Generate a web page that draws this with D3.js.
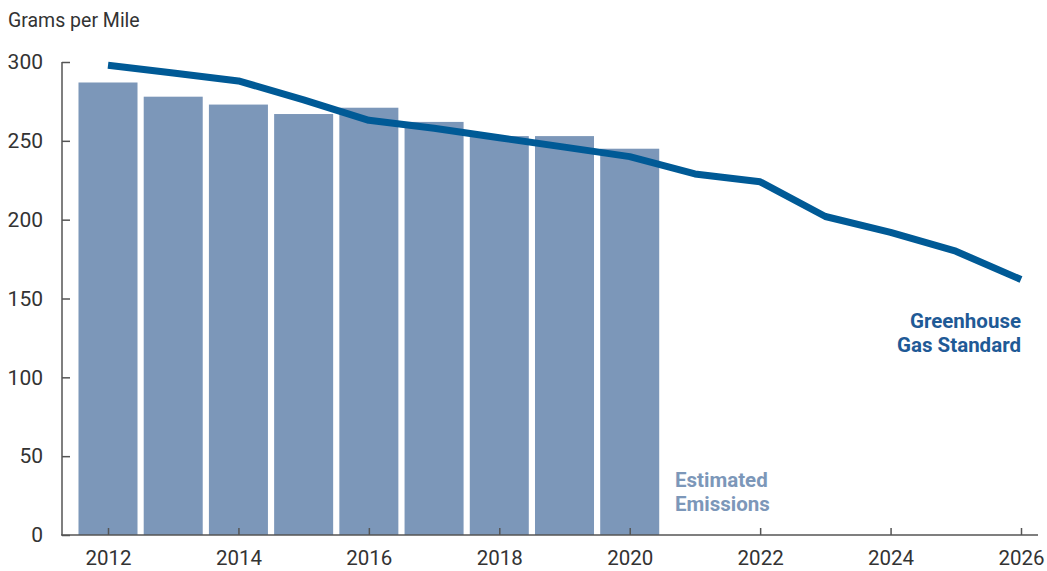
<!DOCTYPE html>
<html>
<head>
<meta charset="utf-8">
<script src="https://cdn.jsdelivr.net/npm/d3@7"></script>
<style>
  body { margin: 0; background: #fff; }
  svg text { font-family: Roboto, "Open Sans", sans-serif; }
</style>
</head>
<body>
<svg id="chart"></svg>
<script>
// estimated emissions (bars) and standard (line), grams per mile
const barYears = [2012, 2013, 2014, 2015, 2016, 2017, 2018, 2019, 2020];
const emissions = [287, 278, 273, 267, 271, 262, 253, 253, 245];

const lineYears = [2012, 2013, 2014, 2015, 2016, 2017, 2018, 2019, 2020, 2021, 2022, 2023, 2024, 2025, 2026];
const standard = [298, 293, 288, 276, 263, 258, 252, 246, 240, 229, 224, 202, 192, 180, 162];

const yTicks = [0, 50, 100, 150, 200, 250, 300];
const xTicks = [2012, 2014, 2016, 2018, 2020, 2022, 2024, 2026];

const W = 1047, H = 571;
const axisColor = "#555", textColor = "#333";
const barColor = "#7c97b9", lineColor = "#005a96";

const svg = d3.select("#chart")
  .attr("width", W)
  .attr("height", H);

const x = d3.scaleLinear().domain([2012, 2026]).range([108, 1021]);
const y = d3.scaleLinear().domain([0, 300]).range([535, 62]);
const barW = (x(2013) - x(2012)) * 0.905;

// axis title
svg.append("text")
  .attr("x", 8).attr("y", 27)
  .attr("font-size", 19.5)
  .attr("fill", textColor)
  .text("Grams per Mile");

// bars
svg.selectAll(".bar")
  .data(barYears)
  .enter().append("rect")
  .attr("class", "bar")
  .attr("x", d => x(d) - barW / 2)
  .attr("width", barW)
  .attr("y", (d, i) => y(emissions[i]))
  .attr("height", (d, i) => y(0) - y(emissions[i]))
  .attr("fill", barColor);

// y axis
const yAxis = svg.append("g")
  .attr("transform", `translate(62,0)`)
  .call(d3.axisRight(y).tickValues(yTicks).tickSize(8).tickFormat(d => d));
yAxis.select(".domain").remove();
yAxis.selectAll(".tick line").attr("stroke", axisColor).attr("stroke-width", 1.5);
yAxis.selectAll(".tick text")
  .attr("x", -19).attr("text-anchor", "end")
  .attr("font-size", 21).attr("fill", textColor)
  .attr("font-family", "Roboto, sans-serif");
svg.append("line")
  .attr("x1", 62).attr("x2", 62)
  .attr("y1", y(300)).attr("y2", y(0))
  .attr("stroke", axisColor).attr("stroke-width", 1.5);

// x axis
const xAxis = svg.append("g")
  .attr("transform", `translate(0,${y(0)})`)
  .call(d3.axisTop(x).tickValues(xTicks).tickSize(7).tickFormat(d3.format("d")));
xAxis.select(".domain").remove();
xAxis.selectAll(".tick line").attr("stroke", axisColor).attr("stroke-width", 1.5);
xAxis.selectAll(".tick text")
  .attr("y", 30).attr("dy", 0)
  .attr("font-size", 20.5).attr("fill", textColor)
  .attr("font-family", "Roboto, sans-serif");
svg.append("line")
  .attr("x1", 61).attr("x2", 1038)
  .attr("y1", y(0)).attr("y2", y(0))
  .attr("stroke", axisColor).attr("stroke-width", 1.5);

// standard line
const line = d3.line()
  .x((d, i) => x(lineYears[i]))
  .y(d => y(d));
svg.append("path")
  .datum(standard)
  .attr("d", line)
  .attr("fill", "none")
  .attr("stroke", lineColor)
  .attr("stroke-width", 7)
  .attr("stroke-linejoin", "round");

// labels
const ghg = svg.append("text")
  .attr("text-anchor", "end")
  .attr("font-size", 20.5).attr("font-weight", "bold")
  .attr("fill", "#1f5a96");
ghg.append("tspan").attr("x", 1021).attr("y", 328).text("Greenhouse");
ghg.append("tspan").attr("x", 1021).attr("y", 352).text("Gas Standard");

const est = svg.append("text")
  .attr("font-size", 20.5).attr("font-weight", "bold")
  .attr("fill", barColor);
est.append("tspan").attr("x", 675).attr("y", 487).text("Estimated");
est.append("tspan").attr("x", 675).attr("y", 511).text("Emissions");
</script>
</body>
</html>
